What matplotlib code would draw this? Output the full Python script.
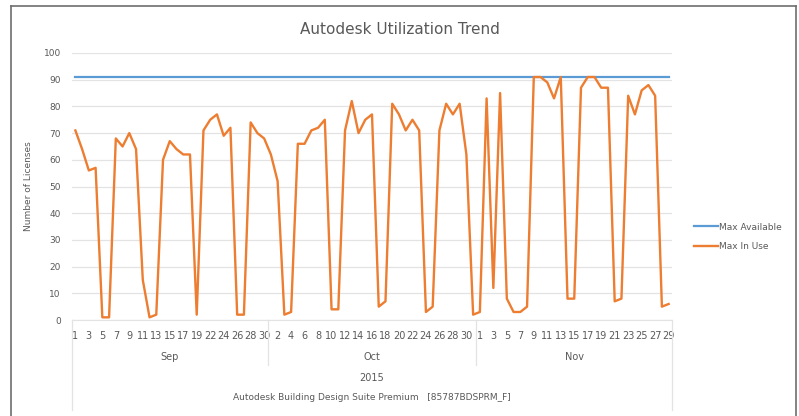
import matplotlib
matplotlib.use("Agg")
import matplotlib.pyplot as plt
from matplotlib.lines import Line2D
import matplotlib.transforms as mtransforms

# categories (one point per day, Sep 2015 has one day missing)
sep_days = [1, 2, 3, 4, 5, 6, 7, 8, 9, 10, 11, 12, 13, 14, 15, 16, 17, 18, 19, 20,
            22, 23, 24, 25, 26, 27, 28, 29, 30]
oct_days = [1, 2, 3, 4, 5, 6, 7, 8, 9, 10, 11, 12, 13, 14, 15, 16, 17, 18, 19, 20,
            21, 22, 23, 24, 25, 26, 27, 28, 29, 30, 31]
nov_days = [1, 2, 3, 4, 5, 6, 7, 8, 9, 10, 11, 12, 13, 14, 15, 16, 17, 18, 19, 20,
            21, 22, 23, 24, 25, 26, 27, 28, 29]
months = ["Sep", "Oct", "Nov"]
year = "2015"
product = "Autodesk Building Design Suite Premium   [85787BDSPRM_F]"

max_in_use_sep = [71, 64, 56, 57, 1, 1, 68, 65, 70, 64, 15, 1, 2, 60, 67, 64, 62, 62, 2,
                  71, 75, 77, 69, 72, 2, 2, 74, 70, 68]
max_in_use_oct = [62, 52, 2, 3, 66, 66, 71, 72, 75, 4, 4, 71, 82, 70, 75, 77, 5, 7, 81,
                  77, 71, 75, 71, 3, 5, 71, 81, 77, 81, 62, 2]
max_in_use_nov = [3, 83, 12, 85, 8, 3, 3, 5, 91, 91, 89, 83, 91, 8, 8, 87, 91, 91, 87,
                  87, 7, 8, 84, 77, 86, 88, 84, 5, 6]
max_available_value = 91

days = sep_days + oct_days + nov_days
max_in_use = max_in_use_sep + max_in_use_oct + max_in_use_nov
max_available = [max_available_value] * len(days)
x = list(range(len(days)))

text_col = "#595959"
grid_col = "#e3e3e3"

fig = plt.figure(figsize=(7.99, 4.16), dpi=100)
ax = fig.add_axes([72 / 799, 1 - 320 / 416, 600 / 799, 267 / 416])

ax.plot(x, max_available, color="#5b9bd5", lw=1.6, label="Max Available")
ax.plot(x, max_in_use, color="#ed7d31", lw=1.7, label="Max In Use", solid_joinstyle="round")

ax.set_xlim(-0.5, len(days) - 0.5)
ax.set_ylim(0, 100)
ax.set_yticks(range(0, 101, 10))
ax.yaxis.grid(True, color=grid_col, lw=0.9)
ax.set_axisbelow(True)
for s in ["left", "right", "top"]:
    ax.spines[s].set_visible(False)
ax.spines["bottom"].set_color(grid_col)
ax.tick_params(axis="y", length=0, labelsize=6.5, labelcolor=text_col, pad=8)
ax.set_ylabel("Number of Licenses", fontsize=6.5, color=text_col, labelpad=8)

ax.set_xticks(x[::2])
ax.set_xticklabels([str(d) for d in days[::2]])
ax.tick_params(axis="x", length=0, labelsize=7, labelcolor=text_col, pad=8)

# multi-level category axis
trans = mtransforms.blended_transform_factory(ax.transData, ax.transAxes)
px = 1 / 267  # one pixel in axes-height units
bounds = [0, len(sep_days), len(sep_days) + len(oct_days), len(days)]
for i, m in enumerate(months):
    mid = (bounds[i] + bounds[i + 1]) / 2 - 0.5
    ax.text(mid, -37 * px, m, transform=trans, ha="center", va="center",
            fontsize=7, color=text_col)
for b in bounds[1:-1]:
    ax.add_line(Line2D([b - 0.5, b - 0.5], [0, -45 * px], transform=trans,
                       color=grid_col, lw=0.9, clip_on=False))
for b in [bounds[0], bounds[-1]]:
    ax.add_line(Line2D([b - 0.5, b - 0.5], [0, -90 * px], transform=trans,
                       color=grid_col, lw=0.9, clip_on=False))
center = (len(days) - 1) / 2
ax.text(center, -58 * px, year, transform=trans, ha="center", va="center",
        fontsize=7, color=text_col)
ax.text(center, -78 * px, product, transform=trans, ha="center", va="center",
        fontsize=6.5, color=text_col)

fig.text(0.5, 1 - 30 / 416, "Autodesk Utilization Trend", ha="center", va="center",
         fontsize=11, color=text_col)

fig.legend(loc="center left", bbox_to_anchor=(686 / 799, 1 - 237 / 416), frameon=False,
           fontsize=6.5, labelcolor=text_col, handlelength=2.6, handletextpad=0.2,
           labelspacing=1.2)

# chart border
for xs, ys in [([11, 11], [416, 6]), ([11, 796], [6, 6]), ([796, 796], [6, 416])]:
    fig.add_artist(Line2D([v / 799 for v in xs], [1 - v / 416 for v in ys],
                          color="#6e6e6e", lw=1.2, transform=fig.transFigure))

fig.savefig("out.png", dpi=100)
